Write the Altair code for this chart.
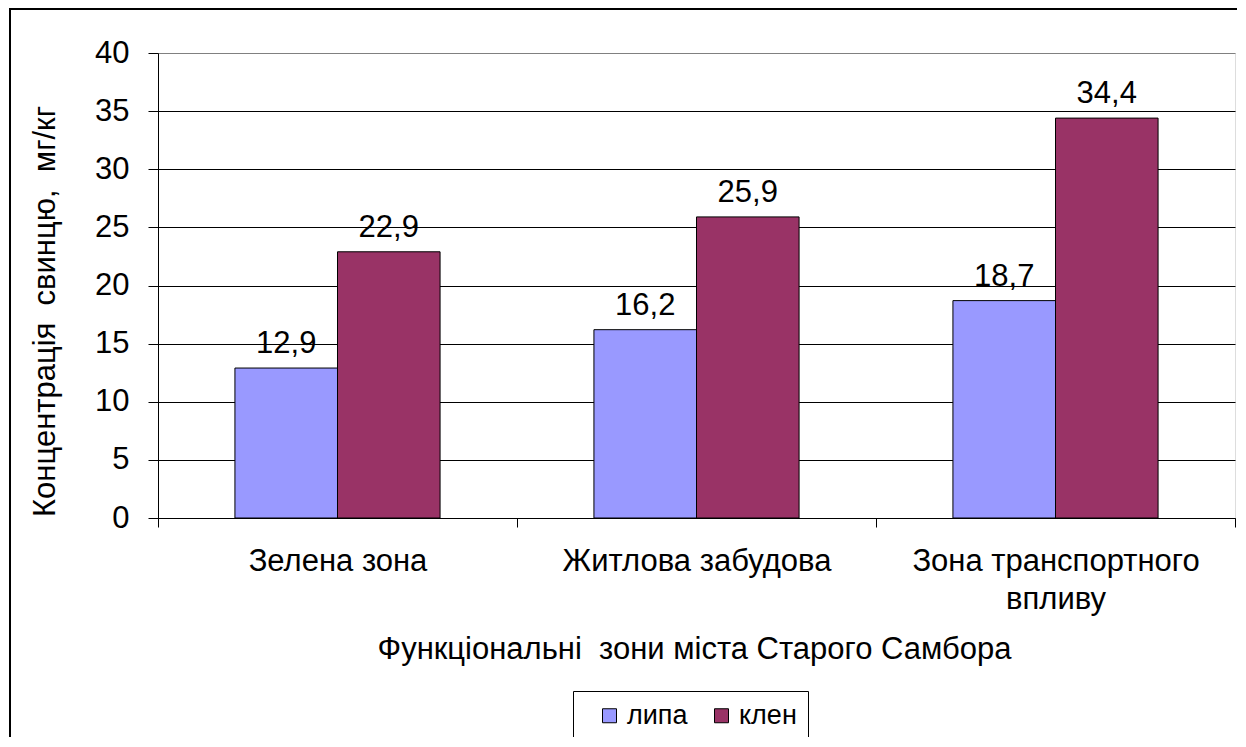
import altair as alt
import pandas as pd

categories = ["Зелена зона", "Житлова забудова", "Зона транспортного впливу"]
series = ["липа", "клен"]
lipa = [12.9, 16.2, 18.7]
klen = [22.9, 25.9, 34.4]
y_ticks = [0, 5, 10, 15, 20, 25, 30, 35, 40]
colors = ["#9999FF", "#993366"]

rows = []
for i, c in enumerate(categories):
    rows.append({"zone": c, "tree": series[0], "value": lipa[i]})
    rows.append({"zone": c, "tree": series[1], "value": klen[i]})
df = pd.DataFrame(rows)
df["label"] = df["value"].map(lambda v: f"{v:.1f}".replace(".", ","))

FONT = "Liberation Sans"
FS = 31
NB = "\u00a0"

x_enc = alt.X(
    "zone:N",
    sort=categories,
    scale=alt.Scale(paddingInner=0, paddingOuter=0),
    axis=alt.Axis(
        title="Функціональні" + NB + " зони міста Старого Самбора",
        titleFontSize=FS,
        titleFontWeight="normal",
        titleFont=FONT,
        titleColor="black",
        titleX=536,
        titleY=131,
        titleAlign="center",
        titleBaseline="middle",
        labelFont=FONT,
        labelFontSize=FS,
        labelColor="black",
        labelAngle=0,
        labelPadding=19,
        labelLineHeight=38,
        labelBaseline="top",
        labelLimit=0,
        labelExpr="datum.value == 'Зона транспортного впливу' ? ['Зона транспортного', 'впливу'] : datum.label",
        tickBand="extent",
        tickSize=9,
        tickColor="black",
        domainColor="black",
        grid=False,
    ),
)
y_enc = alt.Y(
    "value:Q",
    scale=alt.Scale(domain=[0, 40], nice=False),
    axis=alt.Axis(
        title="Концентрація" + NB + " свинцю," + NB + " мг/кг",
        titleFontSize=FS,
        titleFontWeight="normal",
        titleFont=FONT,
        titleColor="black",
        titleAngle=270,
        titleX=-113,
        titleY=258,
        titleAlign="center",
        titleBaseline="middle",
        values=y_ticks,
        labelFont=FONT,
        labelFontSize=FS,
        labelColor="black",
        labelPadding=19,
        tickSize=10,
        tickColor="black",
        domainColor="black",
        grid=True,
        gridColor=alt.condition("datum.value >= 40", alt.value("#808080"), alt.value("black")),
        gridOpacity=1,
        gridWidth=1,
    ),
)
xoff = alt.XOffset("tree:N", sort=series, scale=alt.Scale(paddingInner=0, paddingOuter=0.75))

base = alt.Chart(df)

bars = base.mark_bar(stroke="black", strokeWidth=1).encode(
    x=x_enc,
    xOffset=xoff,
    y=y_enc,
    color=alt.Color(
        "tree:N",
        sort=series,
        scale=alt.Scale(domain=series, range=colors),
        legend=alt.Legend(
            title=None,
            orient="none",
            direction="horizontal",
            legendX=415,
            legendY=638,
            labelFont=FONT,
            labelFontSize=27,
            labelColor="black",
            symbolType="square",
            symbolSize=196,
            symbolStrokeColor="black",
            symbolStrokeWidth=1,
            symbolOpacity=1,
            labelOffset=4,
            columnPadding=8,
            padding=11,
            symbolOffset=12,
            strokeColor="black",
            fillColor="white",
        ),
    ),
)

texts = base.mark_text(
    font=FONT, fontSize=FS, color="black", baseline="alphabetic", dy=-15
).encode(
    x=alt.X("zone:N", sort=categories),
    xOffset=alt.XOffset("tree:N", sort=series),
    y=alt.Y("value:Q"),
    text="label:N",
)

frame = alt.Chart(alt.Data(values=[{}])).mark_rect(
    fill=None, stroke="black", strokeWidth=2
).encode(
    x=alt.value(-148),
    x2=alt.value(1300),
    y=alt.value(-44),
    y2=alt.value(900),
)

chart = (
    alt.layer(frame, bars, texts)
    .properties(
        width=1077,
        height=465,
        autosize=alt.AutoSizeParams(type="none"),
        padding={"left": 150, "top": 45, "right": 2, "bottom": 219},
    )
    .configure_view(fill="#C0C0C0", stroke="#808080", strokeWidth=1)
    .configure(background="white")
)

chart.save("out.html", embed_options={"renderer": "svg", "actions": False})
